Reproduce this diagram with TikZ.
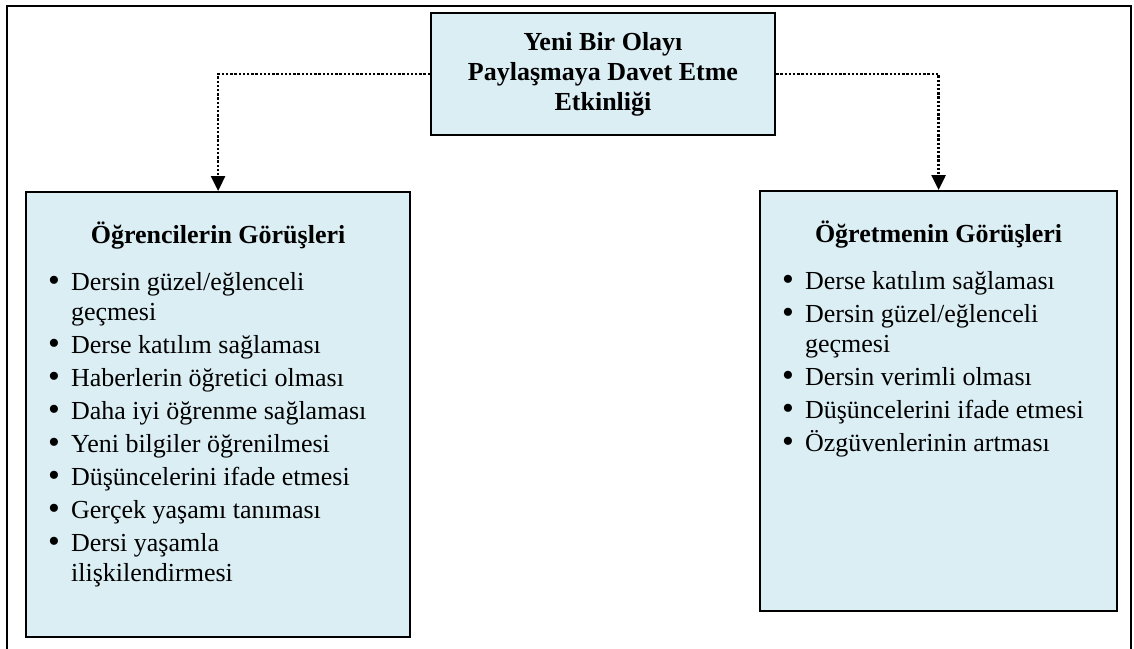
\documentclass[tikz,border=0pt]{standalone}
\usepackage{fontspec}
\setmainfont{Liberation Serif}
\usetikzlibrary{positioning,arrows.meta}
\definecolor{kutumavi}{RGB}{219,238,244}

\newcommand{\madde}[1]{\par\hangindent=11.5pt\hangafter=1\noindent\makebox[11.5pt][l]{\raisebox{-0.4pt}{\scalebox{1.3}{\textbullet}}}#1}
\newcommand{\maddeler}{\par\vspace{7pt}\leftskip=11pt\rightskip=0pt plus 1fil\parfillskip=0pt plus 1fil\parskip=1.5pt\relax}

\begin{document}
\begin{tikzpicture}[x=0.5pt,y=-0.5pt,
    kutu/.style={draw=black,line width=1.1pt,fill=kutumavi,inner sep=0pt,font=\fontsize{13pt}{15pt}\selectfont},
    ok/.style={-{Triangle[length=7.5pt,width=7pt]},line width=1.3pt,dash pattern=on 1.2pt off 0.9pt}]
    \useasboundingbox (0,0) rectangle (1134,648);
    % dis cerceve
    \draw[line width=0.7pt] (7,660) -- (7,6) -- (1131,6) -- (1131,660);

    \node[kutu,minimum width=172pt,minimum height=61pt,align=center,font=\bfseries\fontsize{13pt}{15pt}\selectfont] (olay) at (603,74) {Yeni Bir Olayı\\Paylaşmaya Davet Etme\\Etkinliği};

    \node[kutu,anchor=north west] (ogrenci) at (25,191) {\parbox[c][222.5pt][t]{192pt}{\centering\vspace*{15pt}\textbf{Öğrencilerin Görüşleri}\maddeler
        \madde{Dersin güzel/eğlenceli\newline geçmesi}
        \madde{Derse katılım sağlaması}
        \madde{Haberlerin öğretici olması}
        \madde{Daha iyi öğrenme sağlaması}
        \madde{Yeni bilgiler öğrenilmesi}
        \madde{Düşüncelerini ifade etmesi}
        \madde{Gerçek yaşamı tanıması}
        \madde{Dersi yaşamla\newline ilişkilendirmesi}\par}};

    \node[kutu,anchor=north west] (ogretmen) at (759,190) {\parbox[c][210pt][t]{178.5pt}{\centering\vspace*{15pt}\textbf{Öğretmenin Görüşleri}\maddeler
        \madde{Derse katılım sağlaması}
        \madde{Dersin güzel/eğlenceli\newline geçmesi}
        \madde{Dersin verimli olması}
        \madde{Düşüncelerini ifade etmesi}
        \madde{Özgüvenlerinin artması}\par}};

    \draw[ok] (olay.west) -| (ogrenci.north);
    \draw[ok] (olay.east) -| (ogretmen.north);
\end{tikzpicture}
\end{document}
